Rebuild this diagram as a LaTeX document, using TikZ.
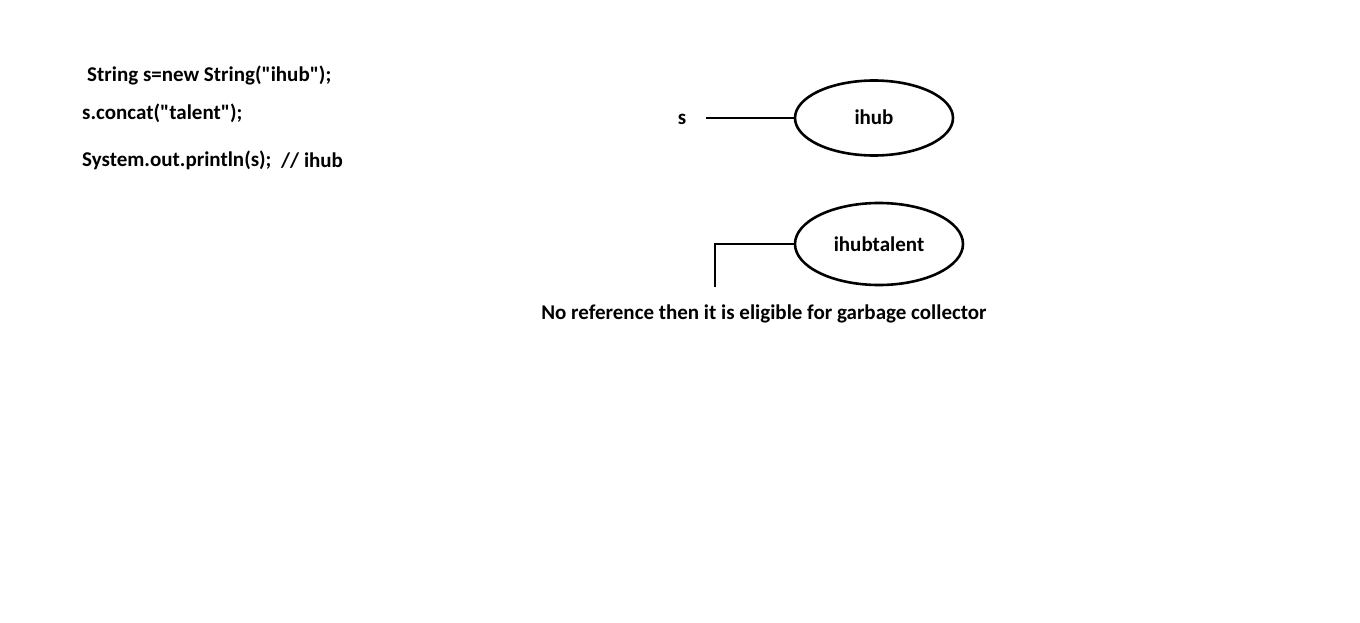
\documentclass[tikz,border=0pt]{standalone}
\usepackage{fontspec}
\setmainfont{Carlito}[Ligatures=TeXOff]
\usetikzlibrary{shapes.geometric}
\begin{document}
\begin{tikzpicture}[x=1pt,y=-1pt,
  txt/.style={font=\bfseries\fontsize{21}{24}\selectfont, inner sep=0pt, text=black},
  code/.style={txt, anchor=west},
  obj/.style={draw, ellipse, line width=2.6pt, inner sep=0pt, txt},
  link/.style={line width=2.6pt}]
\useasboundingbox (0,0) rectangle (1360,623);
\node[code] (c1) at (87,75) {String s=new String("ihub");};
\node[code] (c2) at (82,113) {s.concat("talent");};
\node[code] (c3) at (82,160) {System.out.println(s);};
\node[code] (c4) at (281,161) {// ihub};
\node[txt] (s) at (682,119) {s};
\node[obj, minimum width=158pt, minimum height=75pt] (e1) at (874,118) {\raisebox{1pt}{ihub}};
\node[obj, minimum width=168pt, minimum height=82pt] (e2) at (879,244) {ihubtalent};
\coordinate (p1) at (706,118);
\coordinate (p2) at (715,244);
\coordinate (p3) at (715,287);
\draw[link] (p1) -- (e1.west);
\draw[link] (p3) -- (p2) -- (e2.west);
\node[txt] (gc) at (764,314) {No reference then it is eligible for garbage collector};
\end{tikzpicture}
\end{document}
